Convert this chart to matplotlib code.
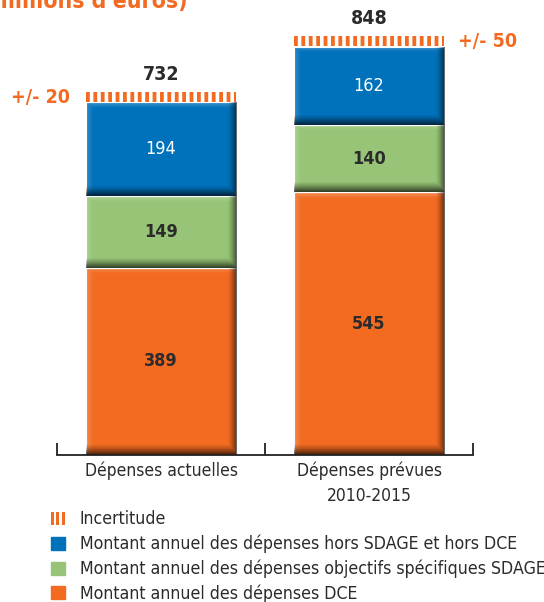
import matplotlib.pyplot as plt
import numpy as np
from matplotlib.patches import Patch
from matplotlib.legend_handler import HandlerTuple

plt.rcParams['font.family'] = ['DejaVu Sans']
plt.rcParams['font.stretch'] = 'condensed'

categories = ["Dépenses actuelles", "Dépenses prévues\n2010-2015"]
dce = [389, 545]
sdage = [149, 140]
hors = [194, 162]
totals = [732, 848]
uncert_labels = ["+/- 20", "+/- 50"]
legend_labels = [
    "Incertitude",
    "Montant annuel des dépenses hors SDAGE et hors DCE",
    "Montant annuel des dépenses objectifs spécifiques SDAGE",
    "Montant annuel des dépenses DCE",
]

ORANGE = "#F26B21"
GREEN = "#97C476"
BLUE = "#0071BB"
DARK = "#2b2b2b"

fig = plt.figure(figsize=(5.44, 6.02), dpi=100)
ax = fig.add_axes([0.1048, 0.2442, 0.7647, 0.7558])
ax.set_xlim(-0.5, 1.5)
ax.set_ylim(0, 944)

x = [0, 1]
w = 0.725
b1 = ax.bar(x, dce, w, color=ORANGE, edgecolor="white", linewidth=0.8)
b2 = ax.bar(x, sdage, w, bottom=dce, color=GREEN, edgecolor="white", linewidth=0.8)
bottom3 = [a + b for a, b in zip(dce, sdage)]
b3 = ax.bar(x, hors, w, bottom=bottom3, color=BLUE, edgecolor="white", linewidth=0.8)


def shade(rect):
    # fake bevel: dark bottom / right edge, light top / left edge
    x0, y0 = rect.get_x(), rect.get_y()
    rw, rh = rect.get_width(), rect.get_height()
    xs = np.linspace(x0, x0 + rw, 200)
    ys = np.linspace(y0, y0 + rh, 200)
    X, Y = np.meshgrid(xs, ys)
    bot = np.clip(1 - (Y - y0) / 22, 0, 1) ** 1.3 * 0.7
    right = np.clip(1 - (x0 + rw - X) / 0.045, 0, 1) ** 1.5 * 0.6
    dark = np.maximum(bot, right)
    top = np.clip(1 - (y0 + rh - Y) / 12, 0, 1) * 0.25
    left = np.clip(1 - (X - x0) / 0.035, 0, 1) * 0.2
    light = np.maximum(top, left) * (1 - dark)
    img_d = np.zeros((200, 200, 4))
    img_d[..., 3] = dark
    img_l = np.ones((200, 200, 4))
    img_l[..., 3] = light
    for img in (img_l, img_d):
        im = ax.imshow(img, extent=(x0, x0 + rw, y0, y0 + rh), origin="lower",
                       aspect="auto", interpolation="bilinear", zorder=1.5)
        im.set_clip_path(rect)


for bars in (b1, b2, b3):
    for r in bars:
        shade(r)

# segment labels
for bars, vals, col, wt in [(b1, dce, DARK, "bold"), (b2, sdage, DARK, "bold"),
                            (b3, hors, "white", "normal")]:
    ax.bar_label(bars, labels=[str(v) for v in vals], label_type="center",
                 color=col, fontsize=13, fontweight=wt, zorder=3)

# uncertainty comb strip + totals
for i, (xi, tot) in enumerate(zip(x, totals)):
    ax.plot([xi - w / 2, xi + w / 2], [tot + 10, tot + 10], color=ORANGE,
            lw=7.2, solid_capstyle="butt", dash_capstyle="butt",
            dashes=(0.38, 0.36))
    ax.annotate(str(tot), (xi, tot), xytext=(0, 20), textcoords="offset points",
                ha="center", va="center", fontsize=14, fontweight="bold", color=DARK)
    if i == 0:
        ax.annotate(uncert_labels[i], (xi - w / 2, tot + 10), xytext=(-11, 0),
                    textcoords="offset points", ha="right", va="center",
                    fontsize=14, fontweight="bold", color=ORANGE)
    else:
        ax.annotate(uncert_labels[i], (xi + w / 2, tot + 10), xytext=(10, 0),
                    textcoords="offset points", ha="left", va="center",
                    fontsize=14, fontweight="bold", color=ORANGE)

ax.set_xlim(-0.5, 1.5)
ax.set_ylim(0, 944)
for s in ["top", "right", "left"]:
    ax.spines[s].set_visible(False)
ax.spines["bottom"].set_color("#222222")
ax.spines["bottom"].set_linewidth(1.3)
ax.set_yticks([])
ax.set_xticks([-0.5, 0.5, 1.5])
ax.set_xticklabels([])
ax.tick_params(axis="x", direction="in", length=9, width=1.3, color="#222222")
for xi, lab in zip(x, categories):
    ax.annotate(lab, (xi, 0), xytext=(0, -5), textcoords="offset points",
                ha="center", va="top", fontsize=12.5, color=DARK, linespacing=1.5)

# title, cropped at the top edge like the source
fig.text(-0.03, 1 - 8 / 602, "(millions d'euros)", color=ORANGE, fontsize=16.5,
         fontweight="bold", ha="left", va="baseline")

comb = tuple(Patch(facecolor=ORANGE, linewidth=0) for _ in range(3))
handles = [
    comb,
    Patch(color=BLUE),
    Patch(color=GREEN),
    Patch(color=ORANGE),
]
fig.legend(handles, legend_labels, loc="upper left", bbox_to_anchor=(0.093, 0.152),
           frameon=False, fontsize=12.7, handlelength=0.8, handleheight=0.75,
           handletextpad=0.85, labelspacing=0.36, borderpad=0, borderaxespad=0,
           labelcolor=DARK,
           handler_map={tuple: HandlerTuple(ndivide=None, pad=0.13)})

fig.savefig("out.png", dpi=100)
